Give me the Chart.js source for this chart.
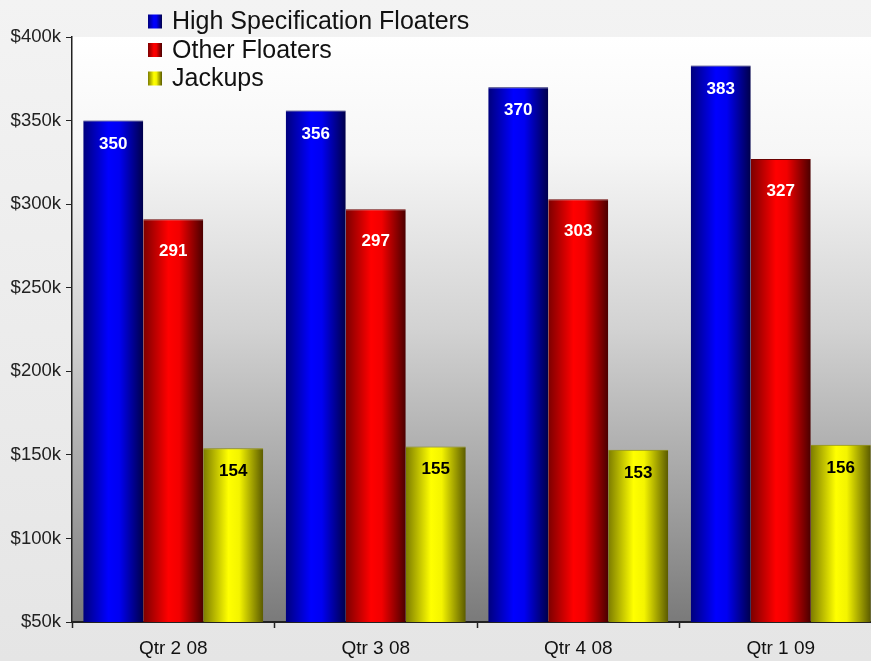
<!DOCTYPE html>
<html>
<head>
<meta charset="utf-8">
<script src="https://cdn.jsdelivr.net/npm/chart.js@4/dist/chart.umd.min.js"></script>
<style>
  html, body { margin: 0; padding: 0; overflow: hidden; background: #eeeeee; }
  #wrap { position: relative; width: 882px; height: 661px; }
</style>
</head>
<body>
<div id="wrap"><canvas id="chart"></canvas></div>
<script>
// Average day rates by rig class, in thousands of dollars
const categories = ['Qtr 2 08', 'Qtr 3 08', 'Qtr 4 08', 'Qtr 1 09'];
const seriesNames = ['High Specification Floaters', 'Other Floaters', 'Jackups'];
const highSpecFloaters = [350, 356, 370, 383];
const otherFloaters = [291, 297, 303, 327];
const jackups = [154, 155, 153, 156];
const yTickValues = [50, 100, 150, 200, 250, 300, 350, 400];

const FONT = '"Liberation Sans", Arial, sans-serif';
const CAT_PCT = 0.889;

// cylinder-like horizontal shading for each series
const shades = [
  [[0, '#00007c'], [0.42, '#0000ff'], [0.6, '#0000f2'], [1, '#00004a']],
  [[0, '#7c0000'], [0.42, '#ff0000'], [0.6, '#f20000'], [1, '#4a0000']],
  [[0, '#7c7c00'], [0.42, '#ffff00'], [0.6, '#f4f400'], [1, '#5a5a00']]
];
const topEdges = ['#00005a', '#6a0000', '#8a8a00'];
const labelColors = ['#ffffff', '#ffffff', '#000000'];
const labelDrop = [23.5, 32, 23];

function barFill(ctx) {
  const chart = ctx.chart;
  const xs = chart.scales.x;
  if (!xs || !chart.chartArea) return shades[ctx.datasetIndex][1][1];
  const n = chart.data.labels.length;
  const nSets = chart.data.datasets.length;
  const catW = (xs.right - xs.left) / n;
  const barW = catW * CAT_PCT / nSets;
  const center = xs.getPixelForValue(ctx.dataIndex);
  const left = center - catW * CAT_PCT / 2 + ctx.datasetIndex * barW;
  const g = chart.ctx.createLinearGradient(left, 0, left + barW, 0);
  shades[ctx.datasetIndex].forEach(([o, c]) => g.addColorStop(o, c));
  return g;
}

const backdrop = {
  id: 'backdrop',
  beforeDraw(chart) {
    const { ctx, chartArea: a, width, height } = chart;
    ctx.save();
    const pg = ctx.createLinearGradient(0, 0, 0, height);
    pg.addColorStop(0, '#f3f3f3');
    pg.addColorStop(1, '#e5e5e5');
    ctx.fillStyle = pg;
    ctx.fillRect(0, 0, width, height);
    const g = ctx.createLinearGradient(0, a.top, 0, a.bottom);
    g.addColorStop(0, '#ffffff');
    g.addColorStop(0.2, '#f6f6f6');
    g.addColorStop(0.5, '#d2d2d2');
    g.addColorStop(0.85, '#969696');
    g.addColorStop(1, '#7a7a7a');
    ctx.fillStyle = g;
    ctx.fillRect(a.left, a.top, a.right - a.left, a.bottom - a.top);
    ctx.restore();
  }
};

const valueLabels = {
  id: 'valueLabels',
  afterDatasetsDraw(chart) {
    const ctx = chart.ctx;
    ctx.save();
    ctx.font = 'bold 17px ' + FONT;
    ctx.textAlign = 'center';
    ctx.textBaseline = 'middle';
    chart.data.datasets.forEach((ds, di) => {
      const meta = chart.getDatasetMeta(di);
      ctx.fillStyle = labelColors[di];
      meta.data.forEach((bar, i) => {
        ctx.fillText(String(ds.data[i]), bar.x, bar.y + labelDrop[di]);
      });
    });
    ctx.restore();
  }
};

const sideLegend = {
  id: 'sideLegend',
  afterDraw(chart) {
    const ctx = chart.ctx;
    ctx.save();
    ctx.font = '25px ' + FONT;
    ctx.textBaseline = 'middle';
    chart.data.datasets.forEach((ds, di) => {
      const cy = 21.5 + di * 28.5;
      const g = ctx.createLinearGradient(148, 0, 162, 0);
      shades[di].forEach(([o, c]) => g.addColorStop(o, c));
      ctx.fillStyle = g;
      ctx.fillRect(148, cy - 7, 14, 14);
      ctx.fillStyle = '#111111';
      ctx.fillText(ds.label, 172, cy + 1);
    });
    ctx.restore();
  }
};

const datasets = [highSpecFloaters, otherFloaters, jackups].map((vals, i) => ({
  label: seriesNames[i],
  data: vals,
  backgroundColor: barFill,
  borderColor: topEdges[i],
  borderWidth: { top: 1, left: 0, right: 0, bottom: 0 },
  borderSkipped: 'bottom',
  categoryPercentage: CAT_PCT,
  barPercentage: 1
}));

new Chart(document.getElementById('chart'), {
  type: 'bar',
  data: { labels: categories, datasets },
  plugins: [backdrop, valueLabels, sideLegend],
  options: {
    responsive: true,
    maintainAspectRatio: false,
    animation: false,
    layout: { padding: { top: 37, left: 0, right: 0, bottom: 0 } },
    plugins: { legend: { display: false }, tooltip: { enabled: false } },
    scales: {
      x: {
        afterFit(s) { s.height = 39; },
        grid: { offset: true, drawOnChartArea: false, drawTicks: true, tickLength: 6, color: '#222222', tickWidth: 1.5 },
        border: { display: true, color: '#222222', width: 2 },
        ticks: { color: '#111111', font: { family: FONT, size: 19 }, padding: 9 }
      },
      y: {
        min: 50,
        max: 400,
        afterFit(s) { s.width = 72; },
        afterBuildTicks(s) { s.ticks = yTickValues.map(v => ({ value: v })); },
        grid: { drawOnChartArea: false, drawTicks: true, tickLength: 6, color: '#222222' },
        border: { display: true, color: '#222222', width: 1.5 },
        ticks: {
          color: '#222222',
          font: { family: FONT, size: 18.5 },
          padding: 5,
          callback: v => '$' + v + 'k'
        }
      }
    }
  }
});
</script>
</body>
</html>
